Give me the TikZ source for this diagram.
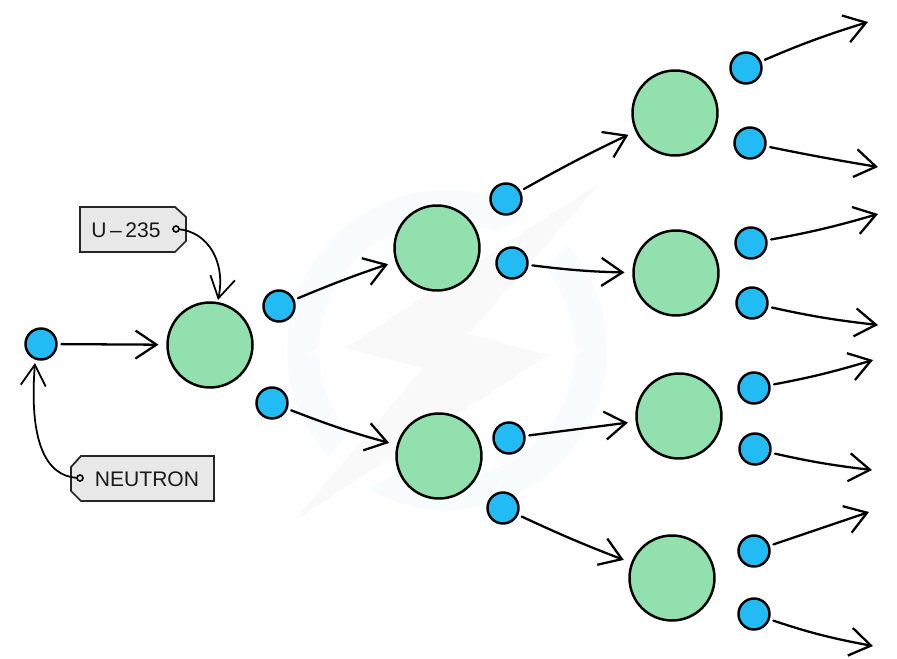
\documentclass[tikz,border=0pt]{standalone}
\usepackage{fontspec}
\setmainfont{Liberation Sans}
\usetikzlibrary{positioning}
\usetikzlibrary{arrows.meta}
\definecolor{coreColor}{RGB}{146,224,174}
\definecolor{neutronColor}{RGB}{34,187,243}
\definecolor{tagColor}{RGB}{232,232,232}
\definecolor{ringColor}{RGB}{248,252,254}
\definecolor{boltColor}{RGB}{249,249,249}
\tikzstyle{chain} = [x = .02cm, y = -.02cm]
\tikzstyle{coreStyle} = [circle, draw=black, fill=coreColor, line width=1.4pt, minimum size=1.7cm, inner sep=0, outer sep=0]
\tikzstyle{neutronStyle} = [circle, draw=black, fill=neutronColor, line width=1.4pt, minimum size=.62cm, inner sep=0, outer sep=0]
\tikzstyle{shotLine} = [line width=1.3pt, line cap=round, -{Straight Barb[length=.42cm, width=.56cm, line width=1.3pt]}, shorten <=.1cm]
\tikzstyle{shotToCore} = [shotLine, shorten >=.18cm]
\tikzstyle{tagStyle} = [draw=black!85, fill=tagColor, line width=1pt]
\tikzstyle{tagText} = [font=\fontsize{12}{14}\selectfont, text=black!90, inner sep=0]
\tikzstyle{tagHole} = [circle, draw=black, fill=tagColor, line width=.9pt, minimum size=.12cm, inner sep=0, outer sep=0]
\tikzstyle{tagLine} = [line width=1pt, line cap=round, -{Straight Barb[length=.42cm, width=.5cm, line width=1pt]}]
\begin{document}
\begin{tikzpicture}[chain]
  \useasboundingbox (0,0) rectangle (897,659);

  % watermark
  \fill [ringColor, even odd rule] (447,350) circle (160) (447,350) circle (128);
  \draw [white, line width=.6cm, line join=miter] (600,183) -- (468,334) -- (548,355) -- (295,520) -- (423,368) -- (345,348) -- cycle;
  \fill [boltColor] (600,183) -- (468,334) -- (548,355) -- (295,520) -- (423,368) -- (345,348) -- cycle;

  % fission cores
  \foreach \name/\x/\y in {coreA/210/345, coreB/437/248, coreC/439/456,
      coreD/675/113, coreE/676/273, coreF/679/416, coreG/672/578} {
    \node [coreStyle] (\name) at (\x,\y) {};
  }

  % neutrons
  \foreach \name/\x/\y in {first/41/344, nA/279/306, nB/272/403,
      nC/506/199, nD/512/263, nE/509/438, nF/503/508,
      nG/746/68, nH/750/143, nI/751/243, nJ/752/303,
      nK/754/388, nL/755/449, nM/754/551, nN/754/614} {
    \node [neutronStyle] (\name) at (\x,\y) {};
  }

  % free ends
  \foreach \name/\x/\y in {endG/868/22, endH/878/167, endI/878/214, endJ/878/325,
      endK/873/360, endL/872/470, endM/869/512, endN/873/646} {
    \coordinate (\name) at (\x,\y);
  }

  % arrows to cores
  \foreach \from/\to/\bendBy in {first/coreA/0, nA/coreB/2, nB/coreC/-3,
      nC/coreD/2, nD/coreE/-3, nE/coreF/0, nF/coreG/-2} {
    \draw [shotToCore] (\from) to [bend left=\bendBy] (\to);
  }

  % arrows leaving
  \foreach \from/\to/\bendBy in {nG/endG/3, nH/endH/-1, nI/endI/-3, nJ/endJ/-3,
      nK/endK/-3, nL/endL/-3, nM/endM/0, nN/endN/-4} {
    \draw [shotLine] (\from) to [bend left=\bendBy] (\to);
  }

  % tags
  \draw [tagStyle] (80,207) -- (175,207) -- (186,217) -- (186,241) -- (175,252) -- (80,252) -- cycle;
  \node [tagText] (uranium) at (126,230) {U\,--\,235};
  \node [tagHole] (uraniumHole) at (176,229) {};
  \draw [tagStyle] (81,456) -- (214,456) -- (214,501) -- (81,501) -- (71,491) -- (71,467) -- cycle;
  \node [tagText] (neutronName) at (147,479) {NEUTRON};
  \node [tagHole] (neutronHole) at (80,478) {};

  \coordinate (uraniumTip) at (218,300);
  \coordinate (neutronTip) at (35,363);
  \draw [tagLine] (uraniumHole) .. controls (208,232) and (226,262) .. (uraniumTip);
  \draw [tagLine] (neutronHole) .. controls (45,476) and (29,440) .. (neutronTip);
\end{tikzpicture}
\end{document}
